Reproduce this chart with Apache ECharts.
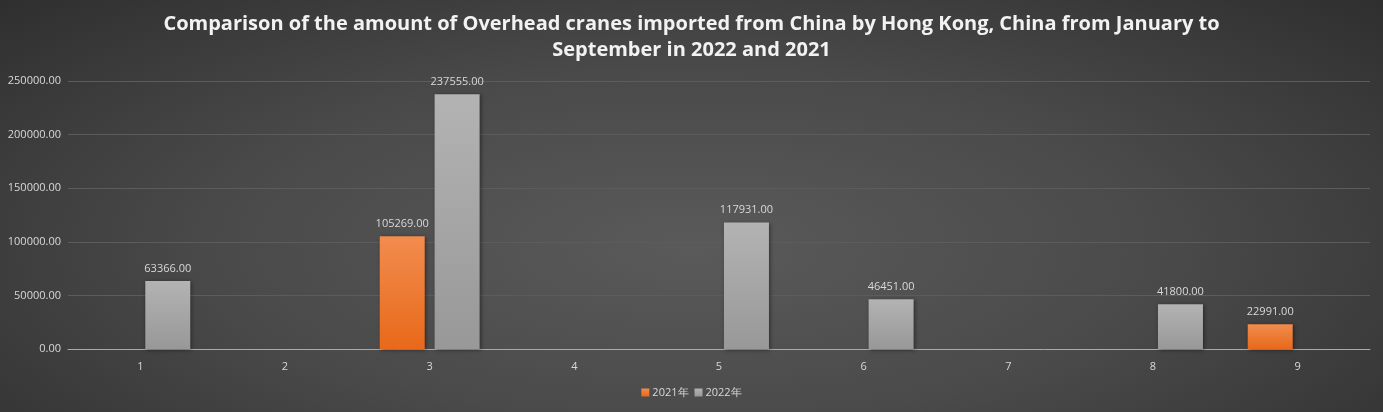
<!DOCTYPE html>
<html>
<head>
<meta charset="utf-8">
<script src="https://cdn.jsdelivr.net/npm/echarts@6/dist/echarts.min.js"></script>
<style>
html,body{margin:0;padding:0;}
#chart{width:1383px;height:412px;background:radial-gradient(ellipse 75% 95% at 50% 60%, #5a5a5a 0%, #4a4a4a 45%, #2a2a2a 100%);}
</style>
</head>
<body>
<div id="chart"></div>
<script>
var titleText = 'Comparison of the amount of Overhead cranes imported from China by Hong Kong, China from January to\nSeptember in 2022 and 2021';
var categories = ['1','2','3','4','5','6','7','8','9'];
var seriesNames = ['2021年','2022年'];
var values2021 = [null, null, 105269, null, null, null, null, null, 22991];
var values2022 = [63366, null, 237555, null, 117931, 46451, null, 41800, null];
var yTicks = {min:0, max:250000, interval:50000};

var chart = echarts.init(document.getElementById('chart'), null, {renderer:'canvas'});
var labelCfg = {show:true, position:'top', color:'#d9d9d9', fontSize:11, fontFamily:'Open Sans', distance:7,
  formatter:function(p){return p.value==null?'':Number(p.value).toFixed(2);}};
chart.setOption({
  backgroundColor:'transparent',
  textStyle:{fontFamily:'Open Sans'},
  title:{text:titleText, left:'center', top:6,
    textStyle:{color:'#f2f2f2', fontSize:20, fontWeight:'bold', fontFamily:'Open Sans', lineHeight:26}},
  legend:{bottom:9, left:'center', itemWidth:8, itemHeight:8, itemGap:6, icon:'rect',
    textStyle:{color:'#d9d9d9', fontSize:11, fontFamily:'Open Sans', padding:[0,0,0,-2]},
    data:seriesNames},
  grid:{left:68, right:13, top:81, bottom:63},
  xAxis:{type:'category', data:categories,
    axisLine:{lineStyle:{color:'#aaaaaa', width:1}}, axisTick:{show:false},
    axisLabel:{color:'#d9d9d9', fontSize:11, margin:12}},
  yAxis:{type:'value', min:yTicks.min, max:yTicks.max, interval:yTicks.interval,
    axisLine:{show:false}, axisTick:{show:false},
    splitLine:{lineStyle:{color:'#5c5c5c', width:1}},
    axisLabel:{color:'#d9d9d9', fontSize:11, margin:7, formatter:function(v){return v.toFixed(2);}}},
  series:[
    {name:seriesNames[0], type:'bar', data:values2021, barWidth:45, barGap:'22%',
      itemStyle:{color:{type:'linear',x:0,y:0,x2:0,y2:1,colorStops:[{offset:0,color:'#f28c4e'},{offset:1,color:'#e8691a'}]},
        shadowColor:'rgba(0,0,0,0.45)', shadowBlur:4, shadowOffsetX:1, shadowOffsetY:1},
      label:labelCfg},
    {name:seriesNames[1], type:'bar', data:values2022, barWidth:45, barGap:'22%',
      itemStyle:{color:{type:'linear',x:0,y:0,x2:0,y2:1,colorStops:[{offset:0,color:'#b3b3b3'},{offset:1,color:'#989898'}]},
        shadowColor:'rgba(0,0,0,0.45)', shadowBlur:4, shadowOffsetX:1, shadowOffsetY:1},
      label:labelCfg}
  ]
});
</script>
</body>
</html>
